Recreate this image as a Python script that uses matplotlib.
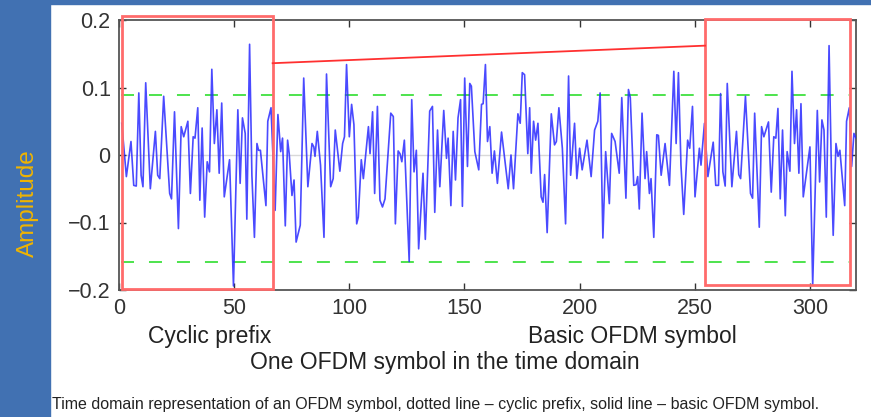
import numpy as np
from matplotlib import pyplot as plt
from matplotlib.patches import Rectangle

plt.rcParams['font.family'] = ['Liberation Sans', 'DejaVu Sans']

# sample positions / amplitudes (line vertices)
t = [1.2, 3.2, 5.2, 6.4, 7.5, 8.6, 9.6, 10.4, 11.6, 13.6, 15.8, 16.8, 17.7, 19.4, 22.0, 22.8,
     24.1, 25.8, 27.0, 28.1, 29.9, 31.0, 32.2, 33.0, 34.2, 35.1, 36.1, 37.2, 38.3, 39.3, 40.3, 41.4,
     42.5, 43.5, 44.6, 45.7, 48.0, 49.7, 51.6, 52.6, 53.6, 54.8, 55.5, 56.7, 57.7, 58.8, 59.9, 60.6,
     61.4, 63.8, 64.6, 66.0, 67.8, 69.0, 70.2, 71.0, 72.2, 73.2, 73.9, 75.1, 76.0, 76.9, 78.7, 80.2,
     82.0, 83.8, 84.6, 85.1, 86.1, 87.5, 89.0, 90.1, 91.9, 93.0, 93.9, 95.9, 97.1, 97.9, 98.8, 100.0,
     101.0, 102.0, 103.2, 103.9, 105.2, 106.1, 108.3, 109.0, 110.1, 111.0, 112.2, 113.3, 114.4, 115.5,
     118.0, 119.1, 120.0, 121.2, 122.0, 122.8, 123.9, 126.0, 127.1, 128.1, 129.1, 130.1, 132.0, 133.0,
     134.9, 136.1, 137.1, 138.3, 139.3, 141.0, 142.2, 142.9, 144.1, 145.1, 146.1, 147.2, 148.3, 149.1,
     150.1, 151.3, 152.3, 153.0, 154.5, 156.2, 157.4, 158.1, 159.1, 160.0, 161.0, 162.0, 163.0, 164.3,
     166.1, 169.0, 170.2, 171.3, 173.2, 174.2, 175.1, 176.1, 177.5, 178.3, 179.0, 180.0, 180.9, 181.9,
     183.3, 184.1, 184.8, 185.9, 187.7, 189.1, 189.9, 191.0, 192.5, 193.9, 195.2, 196.1, 197.8, 198.8,
     200.0, 201.1, 203.2, 205.0, 206.5, 207.9, 208.9, 210.1, 211.3, 212.9, 213.9, 215.4, 217.2, 218.3,
     220.1, 221.2, 222.0, 223.5, 224.5, 225.2, 225.9, 227.1, 228.4, 229.1, 230.3, 231.0, 232.2, 233.5,
     234.2, 235.4, 237.1, 239.0, 240.9, 241.9, 242.9, 244.0, 245.2, 246.9, 247.8, 249.0, 250.1, 252.0,
     252.7, 254.2, 255.7, 258.0, 259.1, 260.3, 261.2, 262.2, 263.2, 264.1, 266.1, 268.1, 269.1, 269.9,
     272.0, 274.2, 275.1, 276.0, 278.0, 279.0, 280.0, 282.0, 283.2, 284.3, 285.2, 286.1, 287.1, 288.1,
     289.3, 290.1, 291.3, 292.2, 293.3, 294.2, 295.2, 296.1, 297.1, 300.0, 301.2, 303.2, 304.2, 305.2,
     306.1, 307.1, 308.3, 309.3, 310.1, 311.3, 312.2, 313.0, 315.1, 315.9, 317.1, 318.1, 319.1, 320.0]
amp = [0.047, -0.032, 0.020, -0.045, -0.046, 0.092, -0.030, -0.047, 0.107, -0.050, 0.035, -0.030,
       -0.035, 0.087, -0.057, -0.065, 0.064, -0.109, 0.042, 0.027, 0.050, -0.057, 0.027, 0.025, 0.070,
       -0.067, 0.040, -0.092, -0.010, -0.025, 0.127, 0.017, 0.067, -0.027, 0.077, -0.062, -0.007,
       -0.194, 0.067, -0.042, 0.055, 0.032, -0.095, 0.164, -0.030, -0.122, 0.017, 0.007, 0.007, -0.075,
       0.050, 0.070, -0.082, 0.060, 0.005, 0.025, -0.105, 0.022, 0.002, -0.060, -0.037, -0.129, -0.104,
       0.114, -0.047, 0.017, 0.012, -0.002, 0.035, -0.015, -0.122, 0.120, -0.047, -0.035, 0.037, -0.024,
       0.017, 0.027, 0.134, 0.027, 0.075, 0.045, -0.102, -0.092, -0.007, -0.035, 0.042, 0.002, 0.064,
       -0.057, 0.072, -0.067, -0.077, -0.065, 0.062, 0.057, -0.102, 0.006, 0.002, -0.010, 0.022, -0.158,
       0.082, -0.025, 0.007, -0.139, -0.027, -0.125, 0.065, 0.072, -0.085, 0.037, -0.047, 0.066, -0.005,
       0.025, -0.075, 0.035, -0.037, 0.055, 0.082, -0.076, 0.114, -0.017, 0.106, 0.102, 0.005, -0.022,
       0.075, 0.076, 0.134, 0.020, 0.042, -0.027, 0.006, -0.042, 0.034, -0.050, 0.000, -0.050, 0.061,
       0.047, 0.122, 0.119, 0.002, 0.070, -0.027, 0.050, 0.022, 0.047, -0.062, -0.070, -0.029, -0.115,
       0.061, 0.015, 0.020, 0.070, 0.010, -0.102, 0.117, -0.030, 0.047, -0.035, 0.010, -0.022, 0.022,
       -0.032, 0.037, 0.050, 0.092, -0.123, 0.005, -0.072, 0.032, 0.020, -0.027, 0.085, -0.064, 0.097,
       0.085, -0.045, -0.044, -0.032, -0.080, 0.062, -0.035, 0.005, -0.057, -0.035, -0.122, 0.030,
       0.029, -0.030, 0.017, -0.045, 0.124, 0.017, 0.122, -0.015, -0.088, 0.022, 0.010, 0.072, -0.062,
       0.010, -0.015, 0.047, -0.032, 0.019, -0.045, -0.045, 0.091, -0.025, -0.046, 0.106, -0.047, 0.035,
       -0.029, -0.035, 0.087, -0.057, -0.064, 0.062, -0.107, 0.042, 0.027, 0.049, -0.055, 0.027, 0.025,
       0.069, -0.065, 0.037, -0.090, 0.005, -0.024, 0.124, 0.017, 0.067, -0.027, 0.076, -0.062, 0.012,
       -0.192, 0.066, -0.040, 0.052, 0.037, -0.092, 0.162, -0.020, -0.119, 0.017, -0.002, 0.007, -0.075,
       0.050, 0.070, -0.017, 0.032, 0.025]

thr_hi = 0.089
thr_lo = -0.159
cp_box = (1.2, 66.7)
sym_box = (254.5, 317.5)
link = ([66.7, 254.5], [0.136, 0.162])

xticks = [0, 50, 100, 150, 200, 250, 300]
yticks = [-0.2, -0.1, 0, 0.1, 0.2]
ytick_labels = ['\u22120.2', '\u22120.1', '0', '0.1', '0.2']

W, H = 871, 417
fig = plt.figure(figsize=(W / 100, H / 100), dpi=100)
fig.patch.set_facecolor('white')

# slide background pieces (left and top)
blue = '#4171b2'
fig.patches.append(Rectangle((0, 0), 50 / W, 1, transform=fig.transFigure, color=blue, zorder=-5))
fig.patches.append(Rectangle((0, 1 - 4 / H), 1, 4 / H, transform=fig.transFigure, color=blue, zorder=-5))

ax = fig.add_axes([119 / W, (H - 290) / H, 737 / W, 270 / H])
ax.set_xlim(0, 320)
ax.set_ylim(-0.2, 0.2)

ax.axhline(0, color='#d9d9d9', lw=1, zorder=1)
ax.plot([1, 317], [thr_hi, thr_hi], color='#3fe03f', lw=1.3, ls=(0, (7.2, 8.3)), zorder=2)
ax.plot([1, 317], [thr_lo, thr_lo], color='#3fe03f', lw=1.3, ls=(0, (7.2, 8.3)), zorder=2)
ax.plot(t, amp, color='#2a2aff', lw=1.2, alpha=0.85, zorder=3)

ax.add_patch(Rectangle((cp_box[0], -0.199), cp_box[1] - cp_box[0], 0.405, fill=False,
                       edgecolor='#ff6b6b', lw=2, clip_on=False, zorder=4))
ax.add_patch(Rectangle((sym_box[0], -0.193), sym_box[1] - sym_box[0], 0.395, fill=False,
                       edgecolor='#ff6b6b', lw=2, clip_on=False, zorder=4))
ax.plot(link[0], link[1], color='#ff3030', lw=1.3, zorder=4)

ax.set_xticks(xticks)
ax.set_yticks(yticks)
ax.set_yticklabels(ytick_labels)
ax.tick_params(direction='in', top=True, right=True, length=5, width=1, colors='#333333',
               labelsize=15.5, pad=6)
for s in ax.spines.values():
    s.set_color('#555555')
    s.set_linewidth(1.3)

fig.text(210 / W, 1 - 336 / H, 'Cyclic prefix', ha='center', va='center', fontsize=16.5, color='#222222')
fig.text(632 / W, 1 - 336 / H, 'Basic OFDM symbol', ha='center', va='center', fontsize=16.5, color='#222222')
fig.text(445 / W, 1 - 362 / H, 'One OFDM symbol in the time domain', ha='center', va='center',
         fontsize=16.5, color='#222222')

fig.text(28 / W, 1 - 203 / H, 'Amplitude', rotation=90, ha='center', va='center', fontsize=17.5,
         color='#f0b400')

fig.text(52 / W, 1 - 405 / H,
         'Time domain representation of an OFDM symbol, dotted line \u2013 cyclic prefix, '
         'solid line \u2013 basic OFDM symbol.', ha='left', va='center', fontsize=11.5, color='#222222')

fig.savefig('out.png', dpi=100)
